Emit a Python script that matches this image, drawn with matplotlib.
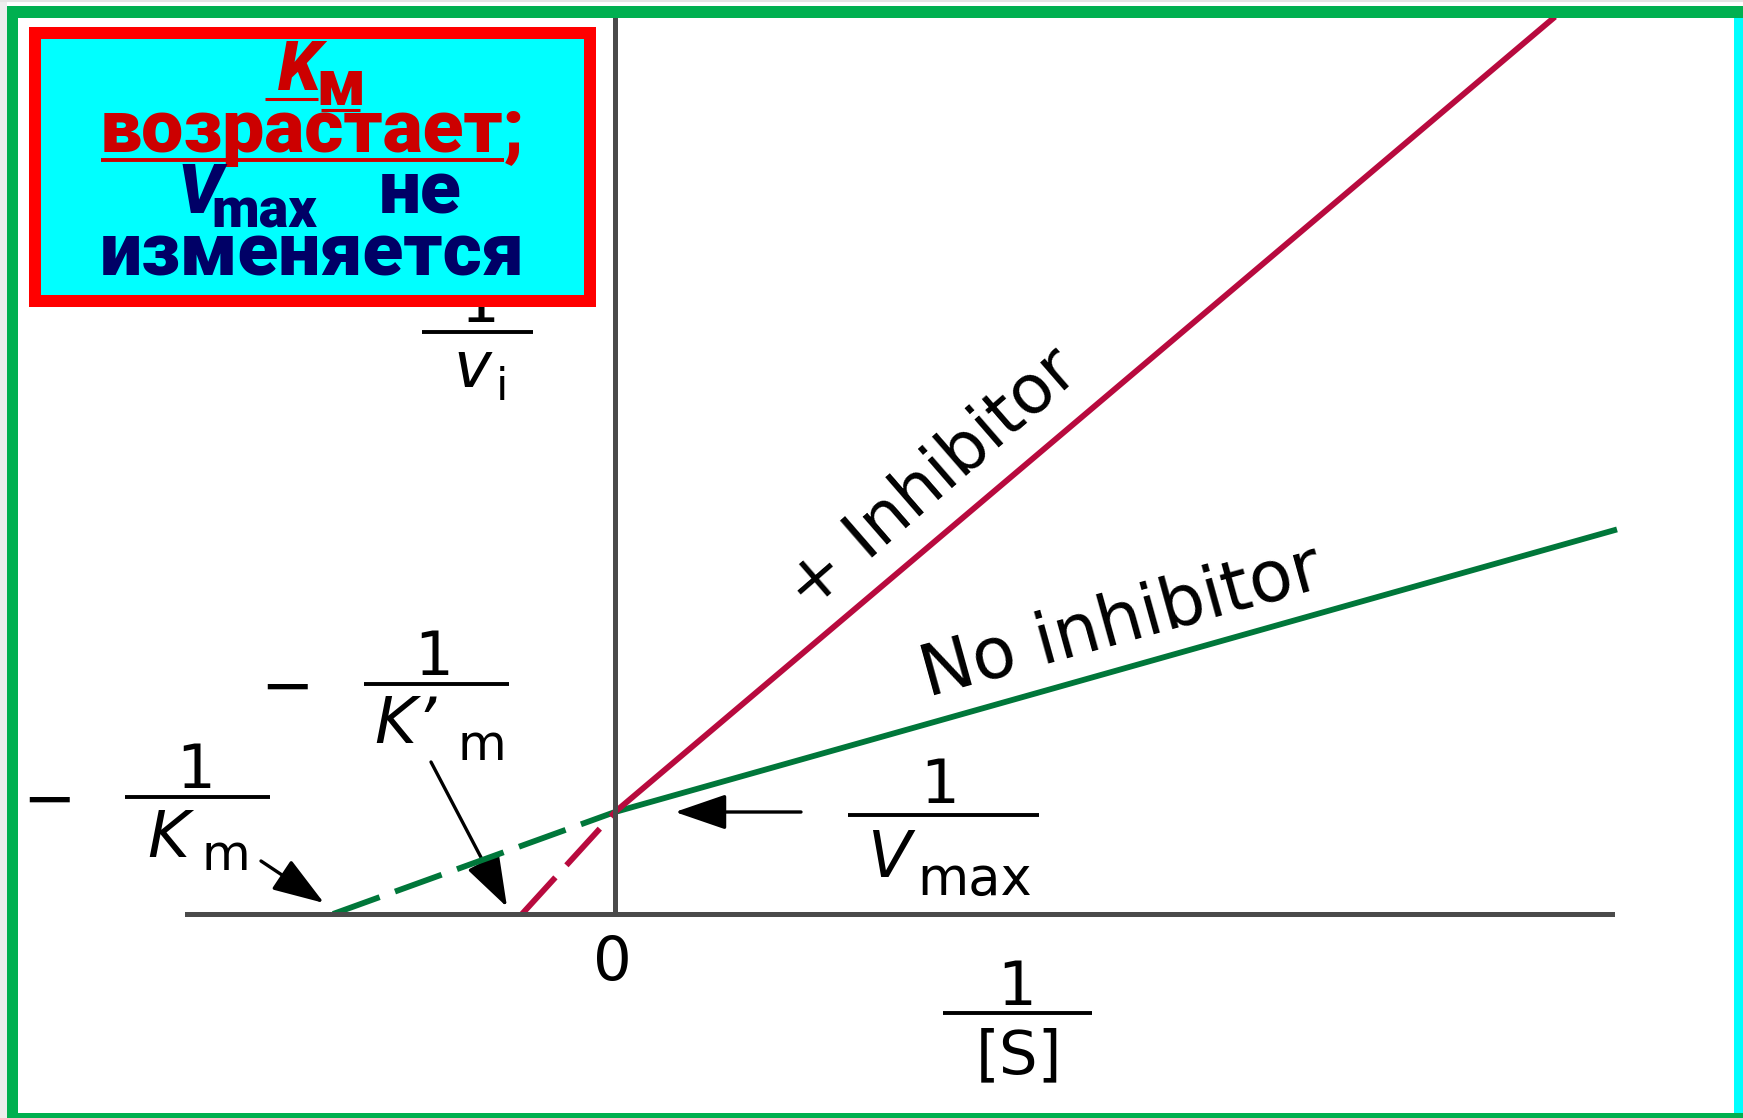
import numpy as np
import matplotlib.pyplot as plt
from matplotlib.patches import Rectangle, FancyArrowPatch

# Lineweaver-Burk plot: competitive inhibition
# data units: 1 unit = 100 px of the final image
inv_vmax = 1.02            # 1/Vmax, shared y-intercept
inv_km = -2.82             # -1/Km, no inhibitor
inv_km_inh = -0.93         # -1/K'm, with inhibitor
slope_none = 0.282
slope_inh = 0.846
x_end_none = 10.02
x_end_inh = 9.40

line_names = ["No inhibitor", "+ Inhibitor"]

RED = "#b80a3e"
GREEN = "#00773a"
AXIS = "#4a4a4a"
FONT = ["DejaVu Sans"]

W, H = 1743, 1118
fig = plt.figure(figsize=(W / 100, H / 100), dpi=100)
fig.patch.set_facecolor("white")

# main plot axes, covering the whole canvas
ax = fig.add_axes([0, 0, 1, 1], zorder=1)
ax.set_xlim(-6.15, 11.28)
ax.set_ylim(-2.04, 9.14)
ax.patch.set_alpha(0)
for side in ["top", "right"]:
    ax.spines[side].set_visible(False)
ax.spines["left"].set_position(("data", 0))
ax.spines["bottom"].set_position(("data", 0))
ax.spines["left"].set_bounds(0, 9.2)
ax.spines["bottom"].set_bounds(-4.28, 9.97)
for side in ["left", "bottom"]:
    ax.spines[side].set_color(AXIS)
    ax.spines[side].set_linewidth(3.6)
ax.set_xticks([])
ax.set_yticks([])

# dashed extrapolation below zero, solid part for positive 1/[S]
for x0, x1, k, col in [(inv_km, x_end_none, slope_none, GREEN),
                       (inv_km_inh, x_end_inh, slope_inh, RED)]:
    ax.plot([x0, 0], [0, inv_vmax], color=col, lw=4.2,
            dashes=(8.5, 2.8), solid_capstyle="butt", dash_capstyle="butt")
    ax.plot([0, x1], [inv_vmax, inv_vmax + k * x1], color=col, lw=4.2,
            solid_capstyle="butt")

# line labels
ax.text(1.93, 3.01, line_names[1], rotation=41, rotation_mode="anchor",
        ha="left", va="baseline", fontsize=49, family=FONT, color="black")
ax.text(3.13, 2.17, line_names[0], rotation=15.5, rotation_mode="anchor",
        ha="left", va="baseline", fontsize=51, family=FONT, color="black")

tk = dict(family=FONT, color="black", va="baseline")


def frac_bar(x0, x1, y):
    ax.plot([x0, x1], [y, y], color="black", lw=2.8, solid_capstyle="butt")


# origin
ax.text(-0.03, -0.66, "0", ha="center", fontsize=44, **tk)

# 1/[S]
ax.text(4.02, -0.91, "1", ha="center", fontsize=44, **tk)
frac_bar(3.28, 4.77, -0.99)
ax.text(4.04, -1.59, "[S]", ha="center", fontsize=44, **tk)

# 1/v_i
ax.text(-1.35, 5.92, "1", ha="center", fontsize=44, **tk)
frac_bar(-1.93, -0.82, 5.82)
ax.text(-1.62, 5.27, "v", ha="left", fontsize=46, style="italic", **tk)
ax.text(-1.19, 5.14, "i", ha="left", fontsize=32, **tk)

# 1/Vmax
ax.text(3.25, 1.11, "1", ha="center", fontsize=44, **tk)
frac_bar(2.33, 4.24, 0.99)
ax.text(2.52, 0.37, "V", ha="left", fontsize=46, style="italic", **tk)
ax.text(3.02, 0.19, "max", ha="left", fontsize=38, **tk)

# -1/K'm
ax.text(-3.28, 2.07, "\u2212", ha="center", fontsize=46, **tk)
frac_bar(-2.51, -1.06, 2.30)
ax.text(-1.81, 2.39, "1", ha="center", fontsize=44, **tk)
ax.text(-2.41, 1.71, "K\u2019", ha="left", fontsize=46, style="italic", **tk)
ax.text(-1.58, 1.54, "m", ha="left", fontsize=36, **tk)

# -1/Km
ax.text(-5.66, 0.94, "\u2212", ha="center", fontsize=46, **tk)
frac_bar(-4.90, -3.45, 1.17)
ax.text(-4.19, 1.26, "1", ha="center", fontsize=44, **tk)
ax.text(-4.68, 0.57, "K", ha="left", fontsize=46, style="italic", **tk)
ax.text(-4.14, 0.44, "m", ha="left", fontsize=36, **tk)

# pointer arrows
arrows = [((1.86, inv_vmax), (0.60, inv_vmax)),
          ((-3.54, 0.53), (-2.91, 0.11)),
          ((-1.84, 1.52), (-1.08, 0.07))]
for tail, tip in arrows:
    ax.add_patch(FancyArrowPatch(tail, tip,
                                 arrowstyle="-|>,head_length=1.6,head_width=0.55",
                                 mutation_scale=20, lw=2.4, color="black",
                                 shrinkA=0, shrinkB=0))

# frame and caption box, drawn in pixel coordinates on top
deco = fig.add_axes([0, 0, 1, 1], zorder=3)
deco.set_xlim(0, W)
deco.set_ylim(H, 0)
deco.axis("off")
deco.patch.set_alpha(0)

BORDER = "#00b050"
CYAN = "#00ffff"
deco.add_patch(Rectangle((0, 0), W, 6, fc="white", ec="none"))
deco.plot([0, W], [1, 1], color="#e4e4e4", lw=1.5)
deco.add_patch(Rectangle((0, 0), 7, H, fc="#ededed", ec="none"))
deco.add_patch(Rectangle((7, 6), W - 7, 12, fc=BORDER, ec="none"))
deco.add_patch(Rectangle((7, 6), 11, H - 6, fc=BORDER, ec="none"))
deco.add_patch(Rectangle((7, 1113), W - 7, 5, fc=BORDER, ec="none"))
deco.add_patch(Rectangle((1734, 18), 9, 1095, fc=CYAN, ec="none"))

deco.add_patch(Rectangle((29, 27), 567, 280, fc="#ff0000", ec="none"))
deco.add_patch(Rectangle((41, 39), 543, 256, fc=CYAN, ec="none"))

DRED = "#cc0000"
NAVY = "#000066"
bx = dict(family=["Roboto", "DejaVu Sans"], fontweight=900, va="baseline")
deco.text(300, 90, "K", ha="center", fontsize=50, style="italic",
          color=DRED, **bx)
deco.text(341, 105, "\u043c", ha="center", fontsize=46, color=DRED, **bx)
deco.plot([265, 318], [98.5, 98.5], color=DRED, lw=2.2, solid_capstyle="butt")
deco.plot([321, 360], [110, 110], color=DRED, lw=2.2, solid_capstyle="butt")
deco.text(312, 152, "\u0432\u043e\u0437\u0440\u0430\u0441\u0442\u0430\u0435\u0442;",
          ha="center", fontsize=54, color=DRED, **bx)
deco.plot([101, 504], [160, 160], color=DRED, lw=2.8, solid_capstyle="butt")
deco.text(200, 213, "V", ha="center", fontsize=50, style="italic",
          color=NAVY, **bx)
deco.text(264, 228, "max", ha="center", fontsize=40, color=NAVY, **bx)
deco.text(420, 213, "\u043d\u0435", ha="center", fontsize=54, color=NAVY, **bx)
deco.text(312, 275, "\u0438\u0437\u043c\u0435\u043d\u044f\u0435\u0442\u0441\u044f",
          ha="center", fontsize=54, color=NAVY, **bx)

plt.savefig("out.png", dpi=100)
